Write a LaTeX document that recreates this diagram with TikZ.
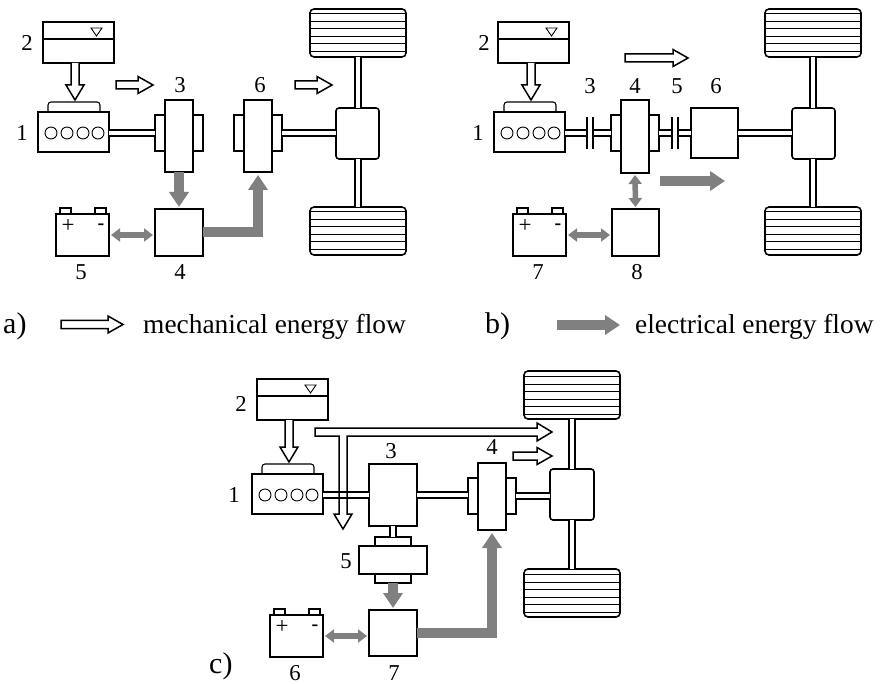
\documentclass[tikz,border=0pt]{standalone}
\usepackage{fontspec}
\setmainfont{Liberation Serif}
\usetikzlibrary{calc,arrows.meta}
\definecolor{flow}{HTML}{808080}
\tikzset{
  x=1pt,y=-1pt,
  box/.style={draw=black,line width=1.6pt,inner sep=0pt,outer sep=0pt,fill=white},
  num/.style={inner sep=0pt,font=\fontsize{22.7}{24}\selectfont},
  lgd/.style={inner sep=0pt,anchor=base west,font=\fontsize{27.4}{30}\selectfont},
  tag/.style={inner sep=0pt,anchor=base west,font=\fontsize{30}{32}\selectfont},
  shaft/.style={draw=black,line width=1.5pt,double=white,double distance=4.2pt},
  hollowline/.style={draw=black,line width=1.5pt,line join=miter,fill=white},
  flowthick/.style={draw=flow,line width=10pt,line join=miter,-{Triangle[length=15pt,width=19pt]}},
  flowbi/.style={draw=flow,line width=5.5pt,{Triangle[length=9pt,width=13pt]}-{Triangle[length=9pt,width=13pt]},shorten <=2pt,shorten >=2pt},
  stripe/.style={draw=black,line width=1pt}
}
% box by corners: [opts]{name}{x1}{y1}{x2}{y2}
\newcommand\bx[6][]{%
  \pgfmathsetmacro\cxx{((#3)+(#5))/2}\pgfmathsetmacro\cyy{((#4)+(#6))/2}%
  \node[box,minimum width={((#5)-(#3))*1pt},minimum height={((#6)-(#4))*1pt},#1] (#2) at (\cxx,\cyy) {};}
% wheel: name, x1, y1
\newcommand\wheel[3]{%
  \bx[rounded corners=4pt]{#1}{#2}{#3}{#2+96}{#3+48}
  \foreach \d in {5,13,20,28,35,43}
    \draw[stripe] ($(#1.north west)+(0,\d)$) -- ($(#1.north east)+(0,\d)$);}
% engine: name, x1, y1 (body top-left)
\newcommand\engine[3]{%
  \bx{#1}{#2}{#3}{#2+71}{#3+40}
  \draw[line width=1.1pt,rounded corners=3pt] ($(#1.north west)+(10,0)$) |- ($(#1.north west)+(62,-10)$) -- ($(#1.north west)+(62,0)$);
  \foreach \d in {13,29,45,60}
    \draw[line width=0.9pt] ($(#1.west)+(\d,1)$) circle[radius=6];}
% tank: name, x1, y1
\newcommand\tank[3]{%
  \bx{#1}{#2}{#3}{#2+71}{#3+41}
  \draw[line width=1.5pt] ($(#1.north west)+(0,17)$) -- ($(#1.north east)+(0,17)$);
  \draw[line width=0.9pt] ($(#1.north west)+(48,6)$) -- ($(#1.north west)+(59,6)$) -- ($(#1.north west)+(53.5,14)$) -- cycle;}
% battery: name, x1, y1 (body top-left)
\newcommand\battery[3]{%
  \bx{#1t1}{#2+4}{#3-6}{#2+15}{#3+1}
  \bx{#1t2}{#2+39}{#3-6}{#2+50}{#3+1}
  \bx{#1}{#2}{#3}{#2+53}{#3+42}
  \node[inner sep=0pt,font=\fontsize{23}{23}\selectfont] (#1p) at ($(#1.north west)+(12,12)$) {+};
  \node[inner sep=0pt,font=\bfseries\fontsize{20}{20}\selectfont] (#1m) at ($(#1.north west)+(45,13)$) {-};}
% coupling: name, central x1,y1,y2
\newcommand\coupling[4]{%
  \bx{#1s}{#2-10}{#3+15}{#2+38}{#3+51}
  \bx{#1}{#2}{#3}{#2+28}{#4}}
% hollow arrows
\newcommand\hollowright[3][]{\draw[hollowline,#1] ($(#2)+(0,-4)$) -- ($(#3)+(-15,-4)$) -- ($(#3)+(-15,-8.5)$) -- (#3) -- ($(#3)+(-15,8.5)$) -- ($(#3)+(-15,4)$) -- ($(#2)+(0,4)$) -- cycle;}
\newcommand\hollowdown[2]{\draw[hollowline] ($(#1)+(-4,0)$) -- ($(#2)+(-4,-15)$) -- ($(#2)+(-9,-15)$) -- (#2) -- ($(#2)+(9,-15)$) -- ($(#2)+(4,-15)$) -- ($(#1)+(4,0)$);}
\begin{document}
\begin{tikzpicture}
\useasboundingbox (0,0) rectangle (880,684);
%%%%%%%%%%%%% panel a
\tank{atank}{43}{22}
\engine{aeng}{38}{112}
\coupling{ac3}{165}{100}{172}
\coupling{ac6}{244}{100}{172}
\bx[rounded corners=3pt]{adiff}{336}{108}{379}{159}
\wheel{awt}{310}{9}
\wheel{awb}{310}{207}
\battery{abat}{56}{214}
\bx{ab4}{155}{209}{203}{256}
\draw[shaft] (ac3s.west -| aeng.east) -- (ac3s.west);
\draw[shaft] (ac6s.east) -- (ac6s.east -| adiff.west);
\draw[shaft] (awt.south) -- (awt.south |- adiff.north);
\draw[shaft] (awb.north) -- (awb.north |- adiff.south);
\coordinate (aet) at ($(aeng.north)+(1.5,-12)$);
\coordinate (aft) at (aet |- atank.south);
\hollowdown{aft}{aet}
\coordinate (af1) at (116,85); \coordinate (af2) at (153,85);
\hollowright{af1}{af2}
\coordinate (af3) at (295,85); \coordinate (af4) at (332,85);
\hollowright{af3}{af4}
\draw[flowthick,shorten >=2pt] (ac3.south) -- (ab4.north);
\draw[flowbi] (abat.east) -- (abat.east -| ab4.west);
\draw[flowthick,shorten >=3pt] (ab4.east) -| (ac6.south);
\node[num] (al2) at (27,43) {2};
\node[num] (al1) at (22,133) {1};
\node[num] (al3) at (180,85) {3};
\node[num] (al6) at (260,85) {6};
\node[num] (al5) at (81,272) {5};
\node[num] (al4) at (180,272) {4};
%%%%%%%%%%%%% panel b
\tank{btank}{498}{22}
\engine{beng}{494}{112}
\coupling{bc4}{621}{100}{173}
\bx{bb6}{691}{108}{738}{158}
\bx[rounded corners=3pt]{bdiff}{792}{108}{835}{159}
\wheel{bwt}{765}{9}
\wheel{bwb}{765}{207}
\battery{bbat}{513}{214}
\bx{bb8}{612}{209}{659}{256}
\draw[shaft] (bc4s.west -| beng.east) -- (bc4s.west);
\draw[shaft] (bc4s.east) -- (bc4s.east -| bb6.west);
\draw[shaft] (bc4s.east -| bb6.east) -- (bc4s.east -| bdiff.west);
\draw[shaft] (bwt.south) -- (bwt.south |- bdiff.north);
\draw[shaft] (bwb.north) -- (bwb.north |- bdiff.south);
\fill[white] (588,127) rectangle (592,139);
\fill[white] (673,127) rectangle (677,139);
\foreach \n/\xx in {a/587,b/593,c/672,d/678}{
  \coordinate (bcl\n t) at (\xx,117); \coordinate (bcl\n b) at (\xx,149);
  \draw[line width=1.5pt] (bcl\n t) -- (bcl\n b);}
\coordinate (bet) at ($(beng.north)+(1.5,-12)$);
\coordinate (bft) at (bet |- btank.south);
\hollowdown{bft}{bet}
\coordinate (bf1) at (625,58); \coordinate (bf2) at (688,58);
\hollowright{bf1}{bf2}
\coordinate (bg1) at (660,181); \coordinate (bg2) at (725,181);
\draw[flowthick] (bg1) -- (bg2);
\draw[flowbi] (bc4.south) -- (bb8.north);
\draw[flowbi] (bbat.east) -- (bbat.east -| bb8.west);
\node[num] (bl2) at (484,43) {2};
\node[num] (bl1) at (478,133) {1};
\node[num] (bl3) at (590,86) {3};
\node[num] (bl4) at (635,86) {4};
\node[num] (bl5) at (677,86) {5};
\node[num] (bl6) at (716,86) {6};
\node[num] (bl7) at (538,272) {7};
\node[num] (bl8) at (637,272) {8};
%%%%%%%%%%%%% legend
\node[tag] (la) at (3,334) {a)};
\coordinate (lh1) at (61,324.5); \coordinate (lh2) at (123,324.5);
\hollowright{lh1}{lh2}
\node[lgd] (lm) at (143,334) {mechanical energy flow};
\node[tag] (lb) at (485,334) {b)};
\coordinate (lg1) at (557,325); \coordinate (lg2) at (620,325);
\draw[flowthick] (lg1) -- (lg2);
\node[lgd] (le) at (635,334) {electrical energy flow};
%%%%%%%%%%%%% panel c
\tank{ctank}{257}{379}
\engine{ceng}{252}{474}
\bx{cb3}{369}{464}{417}{526}
\coupling{cc4}{478}{463}{530}
\bx[rounded corners=3pt]{cdiff}{550}{469}{594}{520}
\wheel{cwt}{524}{371}
\wheel{cwb}{524}{569}
\bx{c5top}{375}{537}{411}{546}
\bx{c5bot}{375}{574}{411}{583}
\bx{c5}{359}{546}{427}{574}
\bx{cb7}{369}{610}{417}{656}
\battery{cbat}{270}{615}
\draw[shaft] (cb3.west -| ceng.east) -- (cb3.west);
\draw[shaft] (cb3.east) -- (cb3.east -| cc4s.west);
\draw[shaft] (cc4s.east) -- (cc4s.east -| cdiff.west);
\draw[shaft] (cwt.south) -- (cwt.south |- cdiff.north);
\draw[shaft] (cwb.north) -- (cwb.north |- cdiff.south);
\draw[shaft] (cb3.south) -- (c5top.north);
\coordinate (cet) at ($(ceng.north)+(1.5,-12)$);
\coordinate (cft) at (cet |- ctank.south);
\hollowdown{cft}{cet}
\coordinate (ct0) at (315,432); \coordinate (ctip) at (552,432); \coordinate (cdtip) at (343,529);
\draw[hollowline,fill=none] ($(ct0)+(0,-4)$) -- ($(ctip)+(-15,-4)$) -- ($(ctip)+(-15,-9)$) -- (ctip) -- ($(ctip)+(-15,9)$) -- ($(ctip)+(-15,4)$)
  -- ($(cdtip)+(4,-93)$) -- ($(cdtip)+(4,-15)$) -- ($(cdtip)+(9,-15)$) -- (cdtip) -- ($(cdtip)+(-9,-15)$) -- ($(cdtip)+(-4,-15)$)
  -- ($(cdtip)+(-4,-93)$) -- ($(ct0)+(0,4)$) -- cycle;
\coordinate (cf1) at (513,456); \coordinate (cf2) at (552,456);
\hollowright{cf1}{cf2}
\draw[flowthick,shorten >=2pt] (c5bot.south) -- (cb7.north);
\draw[flowbi] (cbat.east) -- (cbat.east -| cb7.west);
\draw[flowthick,shorten >=3pt] (cb7.east) -| (cc4.south);
\node[num] (cl2) at (241,404) {2};
\node[num] (cl1) at (234,495) {1};
\node[num] (cl3) at (391,451) {3};
\node[num] (cl4) at (492,447) {4};
\node[num] (cl5) at (346,561) {5};
\node[num] (cl6) at (295,673) {6};
\node[num] (cl7) at (394,673) {7};
\node[tag] (lc) at (209,673) {c)};
\end{tikzpicture}
\end{document}
